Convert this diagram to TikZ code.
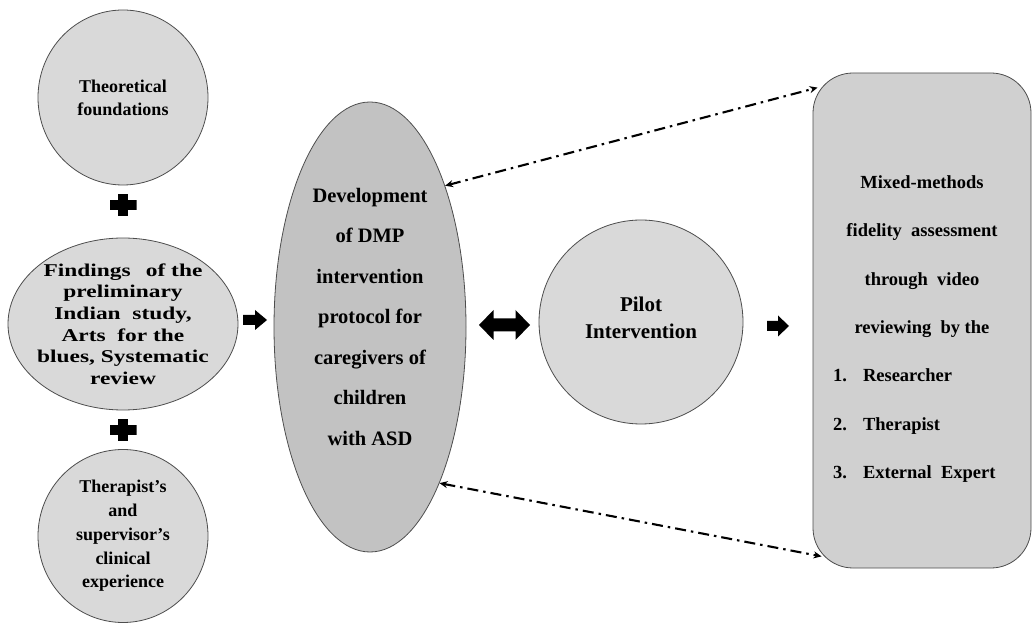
\documentclass[tikz,border=0pt]{standalone}
\usepackage{fontspec}
\usepackage{graphicx}
\setmainfont{Liberation Serif}
\usetikzlibrary{shapes.geometric,arrows.meta,calc}
\definecolor{lightfill}{HTML}{D9D9D9}
\definecolor{midfill}{HTML}{C2C2C2}
\definecolor{rectfill}{HTML}{D0D0D0}
\definecolor{edgecol}{HTML}{4D4D4D}
\begin{document}
\begin{tikzpicture}[x=1pt,y=1pt,
  bubble/.style={ellipse, draw=edgecol, line width=0.8pt, fill=lightfill, inner sep=0pt, align=center},
  plussign/.style={minimum width=27pt, minimum height=22pt, inner sep=0pt,
    path picture={\fill[black] ([yshift=-5pt]path picture bounding box.west) rectangle ([yshift=5pt]path picture bounding box.east);
                  \fill[black] ([xshift=-5pt]path picture bounding box.south) rectangle ([xshift=5pt]path picture bounding box.north);}},
  blockarrow/.style={fill=black},
  dd/.style={line width=2.1pt, dash pattern=on 11pt off 5pt on 2.5pt off 5pt,
    {Stealth[length=8pt,width=7pt]}-{Stealth[length=8pt,width=7pt]}},
  txt/.style={align=center, inner sep=0pt}
]
\useasboundingbox (0,0) rectangle (1033,624);

% left column
\node[bubble, minimum width=170pt, minimum height=175pt,
  font=\fontsize{18}{23}\selectfont\bfseries] (c1) at (123,526.5) {Theoretical\\foundations};
\node[plussign] (p1) at (123,419) {};
\node[bubble, minimum width=230pt, minimum height=172pt] (e2) at (123,300) {};
\node[txt, font=\fontsize{18}{21.6}\selectfont\bfseries] (e2t) at (123,298)
  {\scalebox{1.3}[1]{\begin{tabular}{@{}c@{}}Findings\hspace{0.65em}of the\\preliminary\\Indian\ \ study,\\Arts\ \ for the\\blues, Systematic\\review\end{tabular}}};
\node[plussign] (p2) at (123,194) {};
\node[bubble, minimum width=170pt, minimum height=173pt,
  font=\fontsize{18}{23.75}\selectfont\bfseries] (c3) at (123,88)
  {Therapist’s\\and\\supervisor’s\\clinical\\experience};

% central ellipse
\node[bubble, fill=midfill, minimum width=192pt, minimum height=450pt] (dev) at (370,297) {};
\node[txt, font=\fontsize{20.5}{40.5}\selectfont\bfseries] (devt) at (370,307.5)
  {Development\\of DMP\\intervention\\protocol for\\caregivers of\\children\\with ASD};

% pilot
\node[bubble, minimum width=204pt, minimum height=204pt] (pilot) at (641,302) {};
\node[txt, font=\fontsize{21}{27}\selectfont\bfseries] (pilott) at (641,306) {Pilot\\Intervention};

% rounded rectangle
\node[draw=edgecol, line width=0.8pt, fill=rectfill, rounded corners=40pt,
  minimum width=218pt, minimum height=495pt, inner sep=0pt] (fid) at (922,303.5) {};
\node[txt, font=\fontsize{18.5}{48.3}\selectfont\bfseries] (fidt) at (922,295)
  {Mixed-methods\\fidelity\ \ assessment\\through\ \ video\\reviewing\ \ by the\\
   \makebox[178pt][l]{\makebox[30pt][l]{1.}Researcher}\\
   \makebox[178pt][l]{\makebox[30pt][l]{2.}Therapist}\\
   \makebox[178pt][l]{\makebox[30pt][l]{3.}External\ \ Expert}};

% block arrows
\coordinate (a1) at (255,304);
\fill[blockarrow] ($(a1)+(-12,-5)$) -- ($(a1)+(0,-5)$) -- ($(a1)+(0,-10)$) -- ($(a1)+(12,0)$)
  -- ($(a1)+(0,10)$) -- ($(a1)+(0,5)$) -- ($(a1)+(-12,5)$) -- cycle;
\coordinate (a2) at (504.5,299);
\fill[blockarrow] ($(a2)+(-25.5,0)$) -- ($(a2)+(-11,15)$) -- ($(a2)+(-11,6.5)$) -- ($(a2)+(11,6.5)$)
  -- ($(a2)+(11,15)$) -- ($(a2)+(25.5,0)$) -- ($(a2)+(11,-15)$) -- ($(a2)+(11,-6.5)$)
  -- ($(a2)+(-11,-6.5)$) -- ($(a2)+(-11,-15)$) -- cycle;
\coordinate (a3) at (778,298);
\fill[blockarrow] ($(a3)+(-11,-5)$) -- ($(a3)+(0,-5)$) -- ($(a3)+(0,-10.5)$) -- ($(a3)+(11,0)$)
  -- ($(a3)+(0,10.5)$) -- ($(a3)+(0,5)$) -- ($(a3)+(-11,5)$) -- cycle;

% dash-dot connectors
\draw[dd] (dev.62) -- ($(fid.north west)+(5,-15)$);
\draw[dd] (dev.-66.4) -- ($(fid.south west)+(9,12)$);
\end{tikzpicture}
\end{document}
